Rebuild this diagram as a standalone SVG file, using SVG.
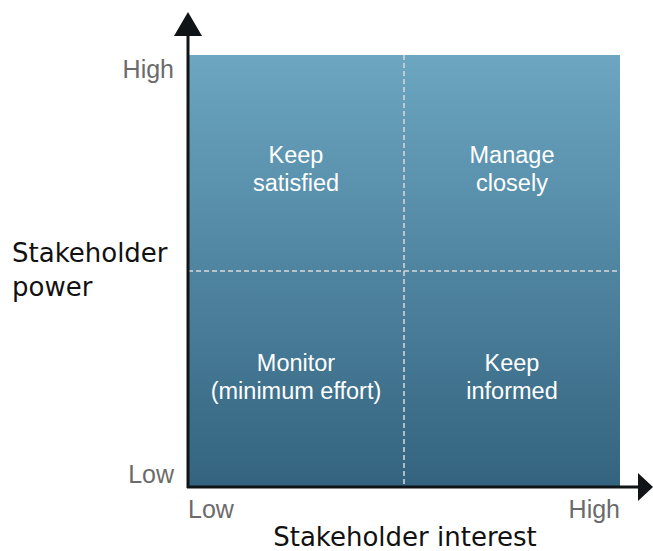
<svg xmlns="http://www.w3.org/2000/svg" width="653" height="551" viewBox="0 0 653 551">
<defs>
<linearGradient id="bg" x1="0" y1="0" x2="0" y2="1">
<stop offset="0" stop-color="#6ca6c1"/>
<stop offset="1" stop-color="#33637f"/>
</linearGradient>
<style>
.q{font-family:"Liberation Sans",Arial,sans-serif;font-size:23.5px;fill:#ffffff;text-anchor:middle}
.t{font-family:"Liberation Sans",Arial,sans-serif;font-size:25px;fill:#6b6b6b}
.ax{font-family:"DejaVu Sans","Open Sans",sans-serif;font-size:26px;fill:#111111}
.dash{stroke:#d9d9d9;stroke-width:1.5;stroke-dasharray:5 3;fill:none}
.axis{stroke:#111417;stroke-width:3;fill:none}
</style>
</defs>
<g id="grid">
<rect x="188" y="55" width="432" height="432" fill="url(#bg)"/>
<line class="dash" x1="404" y1="55" x2="404" y2="487"/>
<line class="dash" x1="188" y1="271" x2="620" y2="271"/>
</g>
<g id="connectors">
<line class="axis" x1="188" y1="488" x2="188" y2="34"/>
<polygon points="188,12 174,36 202,36" fill="#111417"/>
<line class="axis" x1="187" y1="487" x2="640" y2="487"/>
<polygon points="653,487 638,473 638,501" fill="#111417"/>
</g>
<g id="q-keep-satisfied"><text class="q" x="296" y="163">Keep</text><text class="q" x="296" y="191">satisfied</text></g>
<g id="q-manage-closely"><text class="q" x="512" y="163">Manage</text><text class="q" x="512" y="191">closely</text></g>
<g id="q-monitor"><text class="q" x="296" y="371">Monitor</text><text class="q" x="296" y="399">(minimum effort)</text></g>
<g id="q-keep-informed"><text class="q" x="512" y="371">Keep</text><text class="q" x="512" y="399">informed</text></g>
<g id="ticks">
<text class="t" x="174" y="78" text-anchor="end">High</text>
<text class="t" x="174" y="483" text-anchor="end">Low</text>
<text class="t" x="188" y="518">Low</text>
<text class="t" x="620" y="518" text-anchor="end">High</text>
</g>
<g id="axis-labels">
<text class="ax" x="12" y="262">Stakeholder</text>
<text class="ax" x="12" y="296">power</text>
<text class="ax" x="405" y="546" text-anchor="middle">Stakeholder interest</text>
</g>
</svg>
